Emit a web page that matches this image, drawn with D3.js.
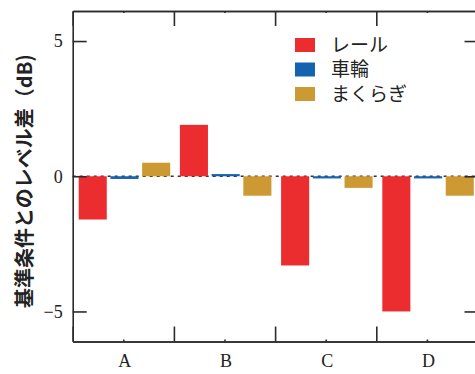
<!DOCTYPE html>
<html>
<head>
<meta charset="utf-8">
<script src="https://cdn.jsdelivr.net/npm/d3@7"></script>
<style>
  html, body { margin: 0; padding: 0; background: #fff; }
  svg { display: block; }
</style>
</head>
<body>
<svg id="chart" width="475" height="374"></svg>
<script>
// Level difference from the reference condition, by measurement case
const categories = ["A", "B", "C", "D"];
const seriesNames = ["レール", "車輪", "まくらぎ"];
const railValues = [-1.6, 1.9, -3.3, -5.0];
const wheelValues = [-0.1, 0.08, -0.08, -0.08];
const sleeperValues = [0.5, -0.72, -0.43, -0.72];
const yTickValues = [-5, 0, 5];
const yLabel = "基準条件とのレベル差（dB)";

const colors = ["#ec2d30", "#1462b0", "#cc9933"];
const seriesValues = [railValues, wheelValues, sleeperValues];

const svg = d3.select("#chart");
const plotLeft = 72.7, plotRight = 477.5, plotTop = 11, plotBottom = 341.5;

const x0 = d3.scaleBand().domain(categories).range([plotLeft, plotRight]).padding(0);
const x1 = d3.scaleBand().domain(seriesNames).range([6, 97.5]).paddingInner(0.115).paddingOuter(0);
const xb = d3.scaleLinear().domain([0, categories.length]).range([plotLeft, plotRight]);
const y = d3.scaleLinear().domain([-6.111, 6.111]).range([plotBottom, plotTop]);

const axisColor = "#2b2b2b";
const serif = "'Liberation Serif', 'DejaVu Serif', serif";
const jp = "'Noto Sans CJK JP', sans-serif";

// zero reference line
svg.append("line")
  .attr("x1", plotLeft).attr("x2", plotRight)
  .attr("y1", y(0)).attr("y2", y(0))
  .attr("stroke", "#333").attr("stroke-width", 1.6)
  .attr("stroke-dasharray", "3,4");

// grouped bars
const rows = categories.map((c, i) => ({
  cat: c,
  vals: seriesNames.map((s, j) => ({ s, v: seriesValues[j][i], color: colors[j] }))
}));

svg.append("g").selectAll("g").data(rows).join("g")
  .attr("transform", d => `translate(${x0(d.cat)},0)`)
  .selectAll("rect").data(d => d.vals).join("rect")
  .attr("x", d => x1(d.s))
  .attr("width", x1.bandwidth())
  .attr("y", d => y(Math.max(0, d.v)))
  .attr("height", d => Math.abs(y(d.v) - y(0)))
  .attr("fill", d => d.color);

function styleAxis(g) {
  g.select(".domain").attr("stroke", axisColor).attr("stroke-width", 1.6);
  g.selectAll(".tick line").attr("stroke", axisColor).attr("stroke-width", 1.6);
  g.selectAll("text").attr("fill", "#222").attr("font-family", serif).attr("font-size", 18);
}

// left and right axes
svg.append("g").attr("transform", `translate(${plotLeft},0)`)
  .call(d3.axisLeft(y).tickValues(yTickValues).tickSize(-14).tickPadding(10).tickSizeOuter(0)
    .tickFormat(d3.format("d")))
  .call(styleAxis);
svg.append("g").attr("transform", `translate(${plotRight},0)`)
  .call(d3.axisRight(y).tickValues(yTickValues).tickSize(-13).tickSizeOuter(0).tickFormat(""))
  .call(styleAxis);

// bottom axis: boundary ticks, centre ticks, category labels
const boundaries = d3.range(categories.length + 1);
const centres = categories.map((c, i) => i + 0.5);
svg.append("g").attr("transform", `translate(0,${plotBottom})`)
  .call(d3.axisBottom(xb).tickValues(boundaries).tickSize(-15).tickSizeOuter(0).tickFormat(""))
  .call(styleAxis);
svg.append("g").attr("transform", `translate(0,${plotBottom})`)
  .call(d3.axisBottom(xb).tickValues(centres).tickSize(-2).tickSizeOuter(0).tickFormat(""))
  .call(styleAxis);
svg.append("g").attr("transform", `translate(1.5,${plotBottom})`)
  .call(d3.axisBottom(x0).tickSize(0).tickPadding(13))
  .call(styleAxis)
  .call(g => g.select(".domain").remove());

// top axis
svg.append("g").attr("transform", `translate(0,${plotTop})`)
  .call(d3.axisTop(xb).tickValues(boundaries).tickSize(-15).tickSizeOuter(0).tickFormat(""))
  .call(styleAxis);
svg.append("g").attr("transform", `translate(0,${plotTop})`)
  .call(d3.axisTop(xb).tickValues(centres).tickSize(-2).tickSizeOuter(0).tickFormat(""))
  .call(styleAxis);

// y axis title
svg.append("text")
  .attr("transform", `translate(32,${181}) rotate(-90)`)
  .attr("text-anchor", "middle")
  .attr("font-family", jp)
  .attr("font-weight", "bold")
  .attr("font-size", 20)
  .attr("fill", "#222")
  .text(yLabel);

// legend
const legend = svg.append("g").attr("transform", "translate(295,38)");
seriesNames.forEach((name, i) => {
  const g = legend.append("g").attr("transform", `translate(0,${i * 24.5})`);
  g.append("rect").attr("width", 20).attr("height", 14).attr("fill", colors[i]);
  g.append("text")
    .attr("x", 36).attr("y", 7).attr("dy", "0.36em")
    .attr("font-family", jp).attr("font-size", 19).attr("fill", "#222")
    .text(name);
});
</script>
</body>
</html>
